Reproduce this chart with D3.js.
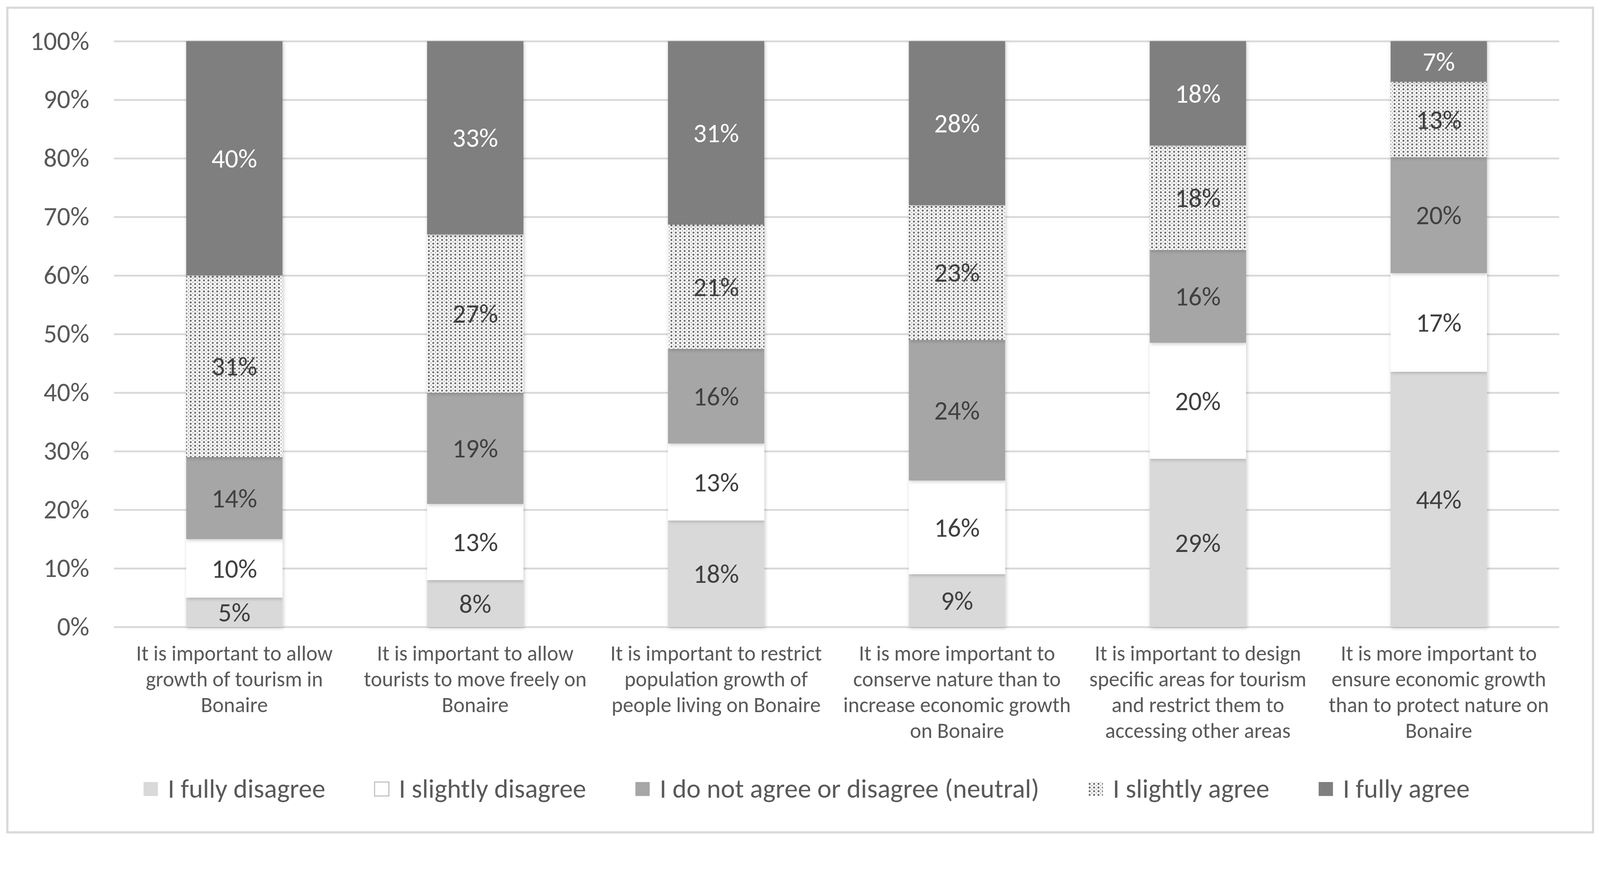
<!DOCTYPE html>
<html>
<head>
<meta charset="utf-8">
<script src="https://cdn.jsdelivr.net/npm/d3@7"></script>
<style>
  html, body { margin: 0; padding: 0; background: #ffffff; overflow: hidden; }
  #chart { width: 100vw; height: 100vh; }
  svg { display: block; width: 100%; height: 100%; }
</style>
</head>
<body>
<div id="chart"></div>
<script>
// ---- data ----
const categories = ["growth", "move", "population", "conserve", "areas", "economic"];

const categoryLines = [
  ["It is important to allow", "growth of tourism in", "Bonaire"],
  ["It is important to allow", "tourists to move freely on", "Bonaire"],
  ["It is important to restrict", "population growth of", "people living on Bonaire"],
  ["It is more important to", "conserve nature than to", "increase economic growth", "on Bonaire"],
  ["It is important to design", "specific areas for tourism", "and restrict them to", "accessing other areas"],
  ["It is more important to", "ensure economic growth", "than to protect nature on", "Bonaire"]
];

const seriesNames = [
  "I fully disagree",
  "I slightly disagree",
  "I do not agree or disagree (neutral)",
  "I slightly agree",
  "I fully agree"
];

const fullyDisagree    = [5, 8, 18, 9, 29, 44];
const slightlyDisagree = [10, 13, 13, 16, 20, 17];
const neutral          = [14, 19, 16, 24, 16, 20];
const slightlyAgree    = [31, 27, 21, 23, 18, 13];
const fullyAgree       = [40, 33, 31, 28, 18, 7];

const yTicks = [0, 0.1, 0.2, 0.3, 0.4, 0.5, 0.6, 0.7, 0.8, 0.9, 1];

// ---- layout ----
const width = 4354, height = 2286;
const plot = {left: 310, right: 4243, top: 112, bottom: 1706};
const font = "Carlito, Calibri, Lato, sans-serif";
const textColor = "#595959";

const seriesValues = [fullyDisagree, slightlyDisagree, neutral, slightlyAgree, fullyAgree];
const fills = ["#d9d9d9", "#ffffff", "#a6a6a6", "url(#dots)", "#7f7f7f"];
const labelColors = ["#404040", "#404040", "#404040", "#404040", "#ffffff"];

// table for the stack
const table = categories.map((c, i) => {
  const row = {cat: c};
  seriesNames.forEach((s, j) => row[s] = seriesValues[j][i]);
  return row;
});

// 100% stacked, like the original
const stack = d3.stack().keys(seriesNames).offset(d3.stackOffsetExpand);
const series = stack(table);

// keep the chart pinned to the top, scaled to the window width
const svg = d3.select("#chart").append("svg")
  .attr("viewBox", [0, 0, width, height])
  .attr("preserveAspectRatio", "xMidYMin meet");

const defs = svg.append("defs");

// dotted fill for "slightly agree"
const pat = defs.append("pattern")
  .attr("id", "dots")
  .attr("width", 12)
  .attr("height", 10)
  .attr("patternUnits", "userSpaceOnUse");
pat.append("rect").attr("width", 12).attr("height", 10).attr("fill", "#ffffff");
pat.append("circle").attr("cx", 3).attr("cy", 3).attr("r", 2.7).attr("fill", "#666666");
pat.append("circle").attr("cx", 9).attr("cy", 8).attr("r", 1.8).attr("fill", "#9a9a9a");

// soft shadow like the office chart
defs.append("filter")
  .attr("id", "shadow")
  .attr("x", "-15%").attr("y", "-15%")
  .attr("width", "130%").attr("height", "130%")
  .append("feDropShadow")
    .attr("dx", 2).attr("dy", 3)
    .attr("stdDeviation", 5)
    .attr("flood-color", "#000")
    .attr("flood-opacity", 0.22);

// chart frame
svg.append("rect")
  .attr("x", 20).attr("y", 21)
  .attr("width", 4315).attr("height", 2244)
  .attr("fill", "#ffffff")
  .attr("stroke", "#d9d9d9")
  .attr("stroke-width", 6);

// scales
const x = d3.scaleBand(categories, [plot.left, plot.right])
  .paddingInner(0.6)
  .paddingOuter(0.3);

const y = d3.scaleLinear([0, 1], [plot.bottom, plot.top]);

// y axis with gridlines
const yAxis = svg.append("g")
  .attr("transform", `translate(${plot.left},0)`)
  .call(d3.axisLeft(y)
    .tickValues(yTicks)
    .tickFormat(d3.format(".0%"))
    .tickSize(-(plot.right - plot.left))
    .tickPadding(67));

yAxis.select(".domain").remove();
yAxis.selectAll(".tick line")
  .attr("stroke", "#d9d9d9")
  .attr("stroke-width", 5);
yAxis.selectAll(".tick text")
  .attr("fill", textColor)
  .attr("font-family", font)
  .attr("font-size", 72);

// bars
const layers = svg.append("g")
  .selectAll("g")
  .data(series)
  .join("g")
    .attr("fill", (d, i) => fills[i]);

layers.selectAll("rect")
  .data(d => d)
  .join("rect")
    .attr("x", d => x(d.data.cat))
    .attr("width", x.bandwidth())
    .attr("y", d => y(d[1]))
    .attr("height", d => y(d[0]) - y(d[1]))
    .attr("filter", "url(#shadow)");

// value labels
const labels = svg.append("g")
  .attr("font-family", font)
  .attr("font-size", 72)
  .attr("text-anchor", "middle");

series.forEach((s, i) => {
  labels.selectAll(".lab" + i)
    .data(s)
    .join("text")
      .attr("class", "lab" + i)
      .attr("x", d => x(d.data.cat) + x.bandwidth() / 2)
      .attr("y", d => y((d[0] + d[1]) / 2))
      .attr("dy", "0.35em")
      .attr("fill", labelColors[i])
      .text(d => d.data[s.key] + "%");
});

// category labels
const catG = svg.append("g")
  .attr("font-family", font)
  .attr("font-size", 58)
  .attr("fill", textColor)
  .attr("text-anchor", "middle");

categories.forEach((c, i) => {
  const cx = x(c) + x.bandwidth() / 2;
  const t = catG.append("text")
    .attr("x", cx)
    .attr("y", 1797);
  categoryLines[i].forEach((line, k) => {
    t.append("tspan")
      .attr("x", cx)
      .attr("dy", k === 0 ? 0 : 70.5)
      .text(line);
  });
});

// legend
const legend = svg.append("g")
  .attr("font-family", font)
  .attr("font-size", 73)
  .attr("fill", textColor);

const swatch = 39, swatchGap = 27, itemGap = 134;
const items = legend.selectAll("g")
  .data(seriesNames)
  .join("g");

items.append("rect")
  .attr("y", 2128)
  .attr("width", swatch)
  .attr("height", 38)
  .attr("fill", (d, i) => fills[i])
  .attr("stroke", (d, i) => i === 1 ? "#bfbfbf" : "none")
  .attr("stroke-width", 3);

items.append("text")
  .attr("x", swatch + swatchGap)
  .attr("y", 2171)
  .text(d => d);

// place legend items one after another, centred
let offsets = [], cursor = 0;
items.each(function() {
  const w = swatch + swatchGap + d3.select(this).select("text").node().getComputedTextLength();
  offsets.push(cursor);
  cursor += w + itemGap;
});
const total = cursor - itemGap;
const legendStart = 2195 - total / 2;
items.attr("transform", (d, i) => `translate(${legendStart + offsets[i]},0)`);
</script>
</body>
</html>
